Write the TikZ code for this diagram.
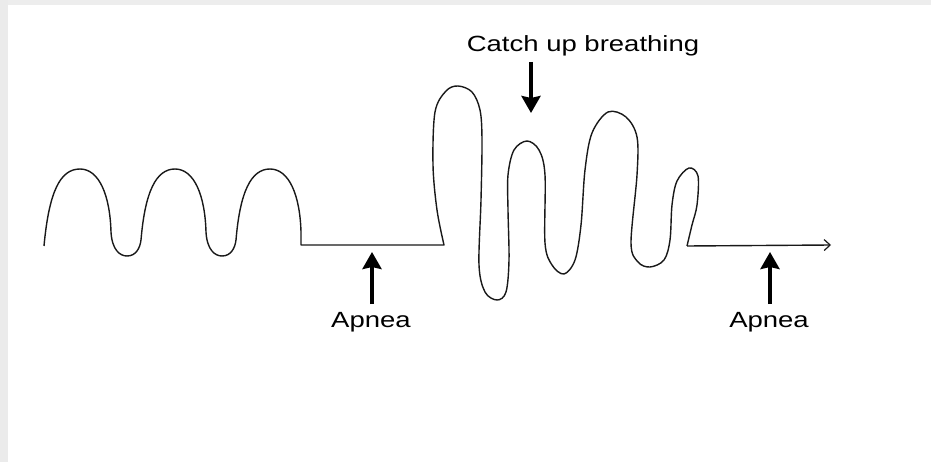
\documentclass[tikz,border=0pt]{standalone}
\usepackage{fontspec}
\newfontfamily\lbl{Liberation Sans}[FakeStretch=1.25]
\usetikzlibrary{arrows.meta}
\tikzset{
  wave/.style={line width=1.4pt, black!90, line join=round},
  bigarrow/.style={line width=3.6pt, -{Stealth[width=19pt,length=17pt,inset=2pt]}},
  label/.style={font=\lbl\fontsize{22}{26}\selectfont, inner sep=0pt, anchor=base}
}
\begin{document}
\begin{tikzpicture}[x=1pt,y=-1pt]
\useasboundingbox (0,0) rectangle (931,462);
\fill[white] (0,0) rectangle (931,462);
\fill[black!7] (0,0) rectangle (931,5);
\fill[black!8] (0,0) rectangle (8,462);

% wave
\coordinate (start) at (44,246);
\coordinate (ap1s) at (301,245);
\coordinate (ap1e) at (444,245);
\coordinate (ap2s) at (687,246);
\coordinate (axisend) at (831,245);
\draw[wave] (start)
  .. controls (49,192) and (60,169) .. (80,169)
  .. controls (99,169) and (110,195) .. (111,232)
  .. controls (112,250) and (120,256) .. (127,256)
  .. controls (136,256) and (140,248) .. (141,240)
  .. controls (145,192) and (156,169) .. (175,169)
  .. controls (194,169) and (205,195) .. (206,232)
  .. controls (207,250) and (215,256) .. (222,256)
  .. controls (231,256) and (235,248) .. (236,240)
  .. controls (240,192) and (251,169) .. (270,169)
  .. controls (289,169) and (300,195) .. (301,232)
  -- (ap1s) -- (ap1e)
  -- plot[smooth, tension=0.55] coordinates {(444,245) (437,210) (433,165) (435,112) (446,91) (458,86) (472,92) (480,110) (482,140) (481,200) (479,265) (485,292) (497,300) (506,292) (509,260) (508,210) (508,175) (514,150) (527,141) (539,150) (545,175) (545,243) (552,265) (564,274) (575,260) (581,225) (585,170) (592,133) (608,112) (626,117) (637,137) (637,175) (631,243) (638,262) (650,267) (664,260) (670,240) (672,205) (677,181) (689,168) (698,176) (697,205) (692,225) (687,246)};
\draw[wave, -{Straight Barb[length=6pt,width=11pt,line width=1.2pt]}] (ap2s) -- (axisend);

% labels and arrows
\node[label] (catch) at (583,52) {Catch up breathing};
\coordinate (cbase) at (531,62);
\coordinate (ctip) at (531,113);
\draw[bigarrow] (cbase) -- (ctip);

\node[label] (apnea1) at (371,327) {Apnea};
\coordinate (a1base) at (372,304);
\coordinate (a1tip) at (372,252);
\draw[bigarrow] (a1base) -- (a1tip);

\node[label] (apnea2) at (769,327) {Apnea};
\coordinate (a2base) at (770,304);
\coordinate (a2tip) at (770,252);
\draw[bigarrow] (a2base) -- (a2tip);
\end{tikzpicture}
\end{document}
